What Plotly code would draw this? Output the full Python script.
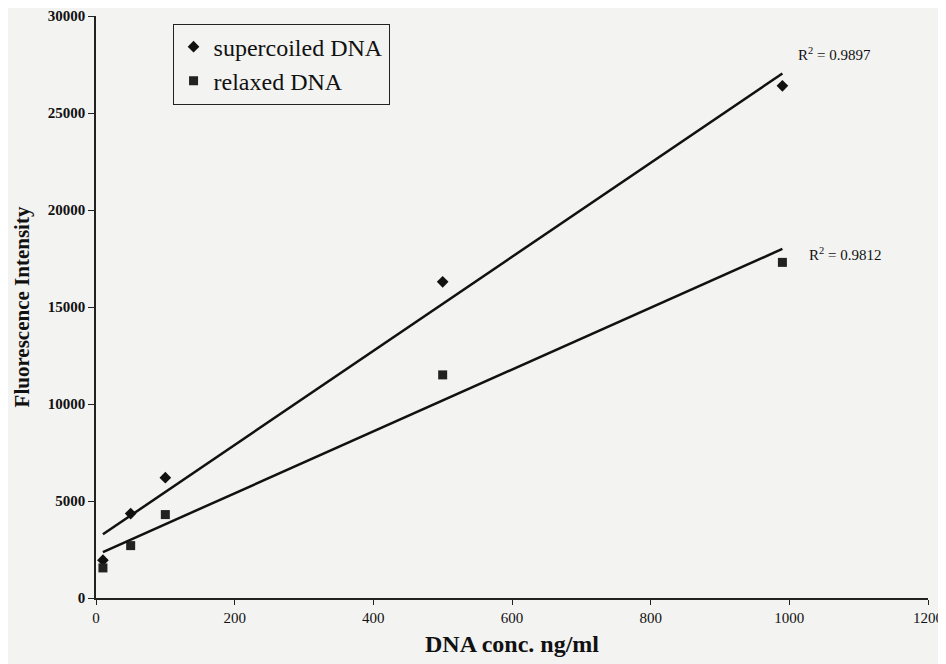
import numpy as np
import plotly.graph_objects as go

# DNA concentration (ng/ml) and fluorescence intensity
conc_super = [10, 50, 100, 500, 990]
fluor_super = [1950, 4350, 6200, 16300, 26400]

conc_relax = [10, 50, 100, 500, 990]
fluor_relax = [1550, 2700, 4300, 11500, 17300]

r2_labels = ["R<sup>2</sup> = 0.9897", "R<sup>2</sup> = 0.9812"]

x_ticks = [0, 200, 400, 600, 800, 1000, 1200]
y_ticks = [0, 5000, 10000, 15000, 20000, 25000, 30000]

FONT = "Liberation Serif, Times New Roman, serif"
BG = "#f3f3f1"


def linea_tendencia(x, y):
    """Recta de mínimos cuadrados entre el primer y el último punto."""
    m, b = np.polyfit(x, y, 1)
    xs = np.array([min(x), max(x)])
    return xs, m * xs + b


fig = go.Figure()

fig.add_trace(go.Scatter(
    x=conc_super, y=fluor_super, mode="markers", name="supercoiled DNA",
    marker=dict(symbol="diamond", size=9, color="#111111")
))
fig.add_trace(go.Scatter(
    x=conc_relax, y=fluor_relax, mode="markers", name="relaxed DNA",
    marker=dict(symbol="square", size=9, color="#222222")
))

for x, y in [(conc_super, fluor_super), (conc_relax, fluor_relax)]:
    xs, ys = linea_tendencia(x, y)
    fig.add_trace(go.Scatter(
        x=xs, y=ys, mode="lines", showlegend=False,
        line=dict(color="#111111", width=2.5)
    ))

# R² labels next to the line ends
xs1, ys1 = linea_tendencia(conc_super, fluor_super)
xs2, ys2 = linea_tendencia(conc_relax, fluor_relax)
fig.add_annotation(x=xs1[1] + 75, y=ys1[1] + 1000, text=r2_labels[0],
                   showarrow=False, font=dict(family=FONT, size=15, color="#111"))
fig.add_annotation(x=xs2[1] + 90, y=ys2[1] - 250, text=r2_labels[1],
                   showarrow=False, font=dict(family=FONT, size=15, color="#111"))

# la página añade 8 px de margen, por eso 938x656
fig.update_layout(
    width=938, height=656,
    margin=dict(l=88, r=18, t=8, b=66, autoexpand=False),
    paper_bgcolor=BG, plot_bgcolor=BG,
    font=dict(family=FONT, color="#111111"),
    legend=dict(
        x=0.092, y=0.987, xanchor="left", yanchor="top",
        bordercolor="#222222", borderwidth=1, bgcolor=BG,
        font=dict(family=FONT, size=24, color="#111111"),
        itemwidth=30
    ),
    xaxis=dict(
        range=[0, 1200], tickvals=x_ticks, tickformat="d",
        showgrid=False, zeroline=False, automargin=False,
        showline=True, linecolor="#222222", linewidth=1.5,
        ticks="outside", ticklen=5, tickcolor="#222222",
        tickfont=dict(family=FONT, size=15),
        title=dict(text="<b>DNA conc. ng/ml</b>", font=dict(family=FONT, size=24),
                   standoff=10)
    ),
    yaxis=dict(
        range=[0, 30000], tickvals=y_ticks, tickformat="d",
        showgrid=False, zeroline=False, automargin=False,
        showline=True, linecolor="#222222", linewidth=1.5,
        ticks="outside", ticklen=6, tickcolor="#222222",
        tickfont=dict(family=FONT, size=15, weight="bold"),
        title=dict(text="<b>Fluorescence Intensity</b>", font=dict(family=FONT, size=21),
                   standoff=12)
    ),
)

fig.write_html("out.html")
